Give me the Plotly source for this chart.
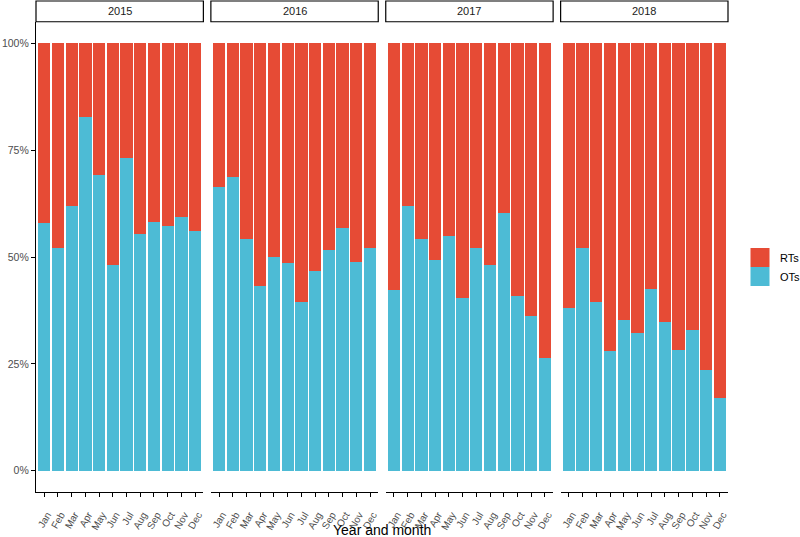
import plotly.graph_objects as go

months = ["Jan", "Feb", "Mar", "Apr", "May", "Jun", "Jul", "Aug", "Sep", "Oct", "Nov", "Dec"]
years = ["2015", "2016", "2017", "2018"]

# Share of OTs (fraction of total) per month, by year
ots_2015 = [0.580, 0.522, 0.620, 0.828, 0.692, 0.481, 0.732, 0.555, 0.583, 0.573, 0.594, 0.562]
ots_2016 = [0.665, 0.688, 0.541, 0.431, 0.500, 0.487, 0.395, 0.467, 0.517, 0.569, 0.489, 0.522]
ots_2017 = [0.423, 0.620, 0.541, 0.493, 0.549, 0.403, 0.522, 0.481, 0.603, 0.409, 0.362, 0.263]
ots_2018 = [0.380, 0.520, 0.395, 0.279, 0.352, 0.322, 0.426, 0.349, 0.282, 0.328, 0.235, 0.170]

# Share of RTs (fraction of total) per month, by year
rts_2015 = [0.420, 0.478, 0.380, 0.172, 0.308, 0.519, 0.268, 0.445, 0.417, 0.427, 0.406, 0.438]
rts_2016 = [0.335, 0.312, 0.459, 0.569, 0.500, 0.513, 0.605, 0.533, 0.483, 0.431, 0.511, 0.478]
rts_2017 = [0.577, 0.380, 0.459, 0.507, 0.451, 0.597, 0.478, 0.519, 0.397, 0.591, 0.638, 0.737]
rts_2018 = [0.620, 0.480, 0.605, 0.721, 0.648, 0.678, 0.574, 0.651, 0.718, 0.672, 0.765, 0.830]

ots = [ots_2015, ots_2016, ots_2017, ots_2018]
rts = [rts_2015, rts_2016, rts_2017, rts_2018]

C_OT = "#4DBBD5"
C_RT = "#E64B35"
FONT = "Arial, Liberation Sans, sans-serif"

W, H = 800, 537
ml, mr, mt, mb = 36, 72, 22, 45
pw = W - ml - mr
ph = H - mt - mb
gap = 7.5
panel = (pw - 3 * gap) / 4

fig = go.Figure()
layout = {}
for i, yr in enumerate(years):
    xa = "x" if i == 0 else f"x{i+1}"
    fig.add_trace(go.Bar(x=months, y=ots[i], name="OTs", marker=dict(color=C_OT, line=dict(width=0)),
                         width=0.9, xaxis=xa, yaxis="y", legendgroup="OTs", showlegend=False))
    fig.add_trace(go.Bar(x=months, y=rts[i], name="RTs", marker=dict(color=C_RT, line=dict(width=0)),
                         width=0.9, xaxis=xa, yaxis="y", legendgroup="RTs", showlegend=False))
    d0 = (i * (panel + gap)) / pw
    d1 = (i * (panel + gap) + panel) / pw
    key = "xaxis" if i == 0 else f"xaxis{i+1}"
    layout[key] = dict(domain=[d0, min(d1, 1)], anchor="y", type="category",
                       categoryorder="array", categoryarray=months,
                       range=[-0.6, 11.6], showline=True, linecolor="black", linewidth=1.2,
                       ticks="outside", ticklen=4, tickcolor="black", tickwidth=1,
                       tickangle=-60, ticklabelstandoff=8, ticklabelshift=3,
                       tickfont=dict(family=FONT, size=10, color="#4D4D4D"),
                       showgrid=False, zeroline=False, fixedrange=True)
    fig.add_shape(type="rect", xref=f"{xa} domain", yref="paper", x0=0, x1=1,
                  y0=1.0005, y1=1 + 21 / ph, line=dict(color="black", width=1.2),
                  fillcolor="white", layer="above")
    fig.add_annotation(text=yr, xref=f"{xa} domain", yref="paper", x=0.5,
                       y=1 + 10.8 / ph, yanchor="middle", xanchor="center", showarrow=False,
                       font=dict(family=FONT, size=11, color="#1A1A1A"))

# legend entries (keys only, no data)
for nm, col in [("OTs", C_OT), ("RTs", C_RT)]:
    fig.add_trace(go.Scatter(x=[None], y=[None], mode="markers", name=nm, legendgroup=nm,
                             marker=dict(symbol="square", size=16, color=col,
                                         line=dict(color=col, width=3)),
                             xaxis="x", yaxis="y", showlegend=True, hoverinfo="skip"))

fig.update_layout(**layout)
fig.update_layout(
    width=W, height=H,
    margin=dict(l=ml, r=mr, t=mt, b=mb, autoexpand=False),
    paper_bgcolor="white", plot_bgcolor="white",
    barmode="stack", bargap=0.1,
    yaxis=dict(range=[-0.05, 1.05], tickvals=[0, 0.25, 0.5, 0.75, 1.0],
               ticktext=["0%", "25%", "50%", "75%", "100%"],
               showline=True, linecolor="black", linewidth=1.2,
               ticks="outside", ticklen=4, tickcolor="black",
               tickfont=dict(family=FONT, size=10.5, color="#4D4D4D"),
               showgrid=False, zeroline=False, fixedrange=True),
    legend=dict(x=(740 - ml) / pw, xanchor="left", y=1 - (267 - mt) / ph, yanchor="middle",
                traceorder="reversed", font=dict(family=FONT, size=11, color="black"),
                bgcolor="rgba(0,0,0,0)", itemwidth=30, itemsizing="trace"),
    showlegend=True,
)
fig.add_annotation(text="Year and month", xref="paper", yref="paper", x=0.5,
                   y=-(530 - 492) / ph, yanchor="middle", showarrow=False,
                   font=dict(family=FONT, size=14, color="black"))

fig.write_html("out.html", config={"displayModeBar": False},
               post_script="document.body.style.margin='0px';document.body.style.overflow='hidden';")
